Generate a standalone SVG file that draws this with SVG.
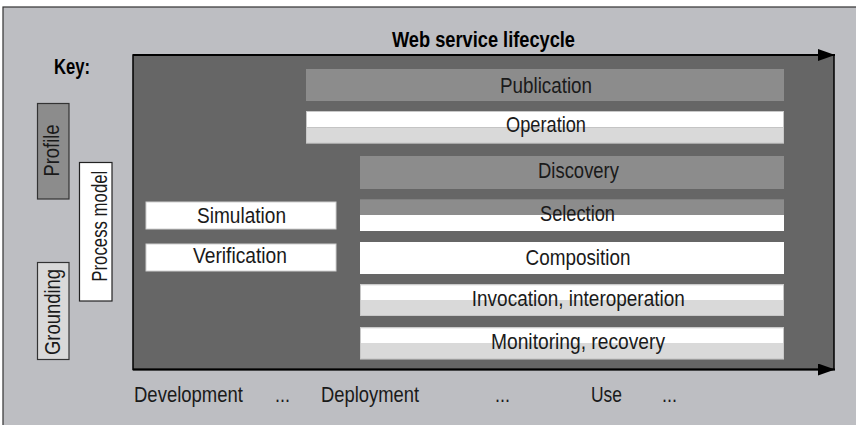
<svg xmlns="http://www.w3.org/2000/svg" width="856" height="425" viewBox="0 0 856 425">
<defs>
<style>
text{font-family:"Liberation Sans",Arial,sans-serif;font-size:21.5px;fill:#1a1a1a;}
.b{font-weight:bold;fill:#000;}
.m{text-anchor:middle;}
.mid{fill:#8c8c8c;}
.lt{fill:#d9d9d9;}
.wh{fill:#ffffff;}
.kb{stroke:#333;stroke-width:1.2;}
.conn{stroke:#000;stroke-width:2;fill:none;}
</style>
<marker id="ah" viewBox="0 0 10 10" refX="10" refY="5" markerUnits="userSpaceOnUse" markerWidth="17" markerHeight="12" orient="auto" preserveAspectRatio="none">
<path d="M0,0 L10,5 L0,10 Z" fill="#000"/>
</marker>
</defs>
<rect x="3" y="7" width="860" height="425" fill="#bdbec2" stroke="#333" stroke-width="1.2"/>
<g id="lifecycle">
<rect x="133" y="55" width="701" height="314.5" fill="#666666" stroke="#000" stroke-width="1.5"/>
<text class="b m" x="483.5" y="47" textLength="183" lengthAdjust="spacingAndGlyphs">Web service lifecycle</text>
</g>
<g id="connectors">
<line class="conn" x1="133" y1="55" x2="835" y2="55" marker-end="url(#ah)"/>
<line class="conn" x1="133" y1="369.5" x2="835" y2="369.5" marker-end="url(#ah)"/>
</g>
<g id="key">
<text class="b" x="54" y="74" textLength="36" lengthAdjust="spacingAndGlyphs">Key:</text>
</g>
<g id="profile">
<rect class="mid kb" x="37.5" y="103.5" width="31.5" height="95.5"/>
<text class="m" transform="translate(58.5,150.5) rotate(-90)" textLength="52" lengthAdjust="spacingAndGlyphs">Profile</text>
</g>
<g id="grounding">
<rect class="lt kb" x="37.5" y="262.5" width="31.5" height="97"/>
<text class="m" transform="translate(59.5,312) rotate(-90)" textLength="86" lengthAdjust="spacingAndGlyphs">Grounding</text>
</g>
<g id="process-model">
<rect class="wh" x="79.5" y="162.5" width="32.5" height="138.5" stroke="#222" stroke-width="1.2"/>
<text class="m" transform="translate(106.7,226.2) rotate(-90)" textLength="111" lengthAdjust="spacingAndGlyphs">Process model</text>
</g>
<g id="publication">
<rect class="mid" x="306" y="69" width="478" height="32"/>
<text class="m" x="546" y="93" textLength="92" lengthAdjust="spacingAndGlyphs">Publication</text>
</g>
<g id="operation">
<rect class="wh" x="306" y="111" width="478" height="16.3"/>
<rect class="lt" x="306" y="127.3" width="478" height="16"/>
<rect x="306.5" y="111.5" width="477" height="31.5" fill="none" stroke="#c8c8c8" stroke-width="1"/>
<text class="m" x="546" y="132" textLength="80" lengthAdjust="spacingAndGlyphs">Operation</text>
</g>
<g id="discovery">
<rect class="mid" x="360" y="156" width="424" height="33"/>
<text class="m" x="578.5" y="177.5" textLength="81" lengthAdjust="spacingAndGlyphs">Discovery</text>
</g>
<g id="selection">
<rect class="mid" x="360" y="199.3" width="424" height="15.7"/>
<rect class="wh" x="360" y="215" width="424" height="16"/>
<text class="m" x="577.5" y="220.7" textLength="75" lengthAdjust="spacingAndGlyphs">Selection</text>
</g>
<g id="composition">
<rect class="wh" x="360" y="242" width="424" height="32"/>
<text class="m" x="578" y="265" textLength="105" lengthAdjust="spacingAndGlyphs">Composition</text>
</g>
<g id="invocation">
<rect class="wh" x="360" y="284.3" width="424" height="15.7"/>
<rect class="lt" x="360" y="300" width="424" height="16"/>
<rect x="360.5" y="284.8" width="423" height="30.7" fill="none" stroke="#c8c8c8" stroke-width="1"/>
<text class="m" x="578.3" y="306" textLength="213" lengthAdjust="spacingAndGlyphs">Invocation, interoperation</text>
</g>
<g id="monitoring">
<rect class="wh" x="360" y="327.3" width="424" height="15.7"/>
<rect class="lt" x="360" y="343" width="424" height="16.3"/>
<rect x="360.5" y="327.8" width="423" height="31" fill="none" stroke="#c8c8c8" stroke-width="1"/>
<text class="m" x="578" y="349" textLength="174" lengthAdjust="spacingAndGlyphs">Monitoring, recovery</text>
</g>
<g id="simulation">
<rect class="wh" x="146" y="202" width="190" height="27" stroke="#d0d0d0" stroke-width="1"/>
<text class="m" x="241.5" y="222.7" textLength="89" lengthAdjust="spacingAndGlyphs">Simulation</text>
</g>
<g id="verification">
<rect class="wh" x="146" y="244" width="190" height="27" stroke="#d0d0d0" stroke-width="1"/>
<text class="m" x="240" y="262.7" textLength="94" lengthAdjust="spacingAndGlyphs">Verification</text>
</g>
<g id="phases">
<text x="134" y="401.7" textLength="109" lengthAdjust="spacingAndGlyphs">Development</text>
<text x="275" y="401.7" textLength="15" lengthAdjust="spacingAndGlyphs">...</text>
<text x="321" y="401.7" textLength="98" lengthAdjust="spacingAndGlyphs">Deployment</text>
<text x="495" y="401.7" textLength="15" lengthAdjust="spacingAndGlyphs">...</text>
<text x="591" y="401.7" textLength="31" lengthAdjust="spacingAndGlyphs">Use</text>
<text x="662" y="401.7" textLength="15" lengthAdjust="spacingAndGlyphs">...</text>
</g>
</svg>
